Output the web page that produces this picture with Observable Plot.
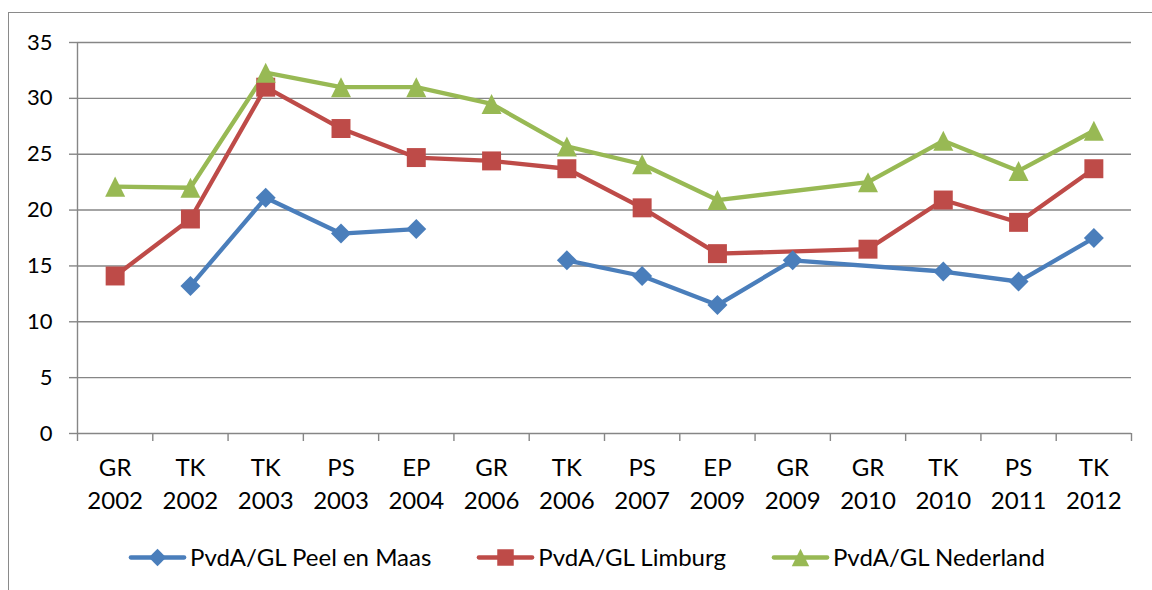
<!DOCTYPE html>
<html>
<head>
<meta charset="utf-8">
<script src="https://cdn.jsdelivr.net/npm/d3@7"></script>
<script src="https://cdn.jsdelivr.net/npm/@observablehq/plot@0.6"></script>
<style>
  html, body { margin: 0; padding: 0; background: #fff; }
  #wrap { position: relative; width: 1152px; height: 590px; overflow: hidden; font-family: Lato, "Open Sans", sans-serif; }
  #frame { position: absolute; left: 7.5px; top: 12px; width: 3000px; height: 3000px;
           border-left: 1.5px solid #8a8a8a; border-top: 1.5px solid #8a8a8a; box-sizing: border-box; }
  #chart { position: absolute; left: 0; top: 0; }
  #legend { position: absolute; left: 128px; top: 542px; display: flex; align-items: center; gap: 45px;
            font-size: 24px; color: #000; white-space: nowrap; }
  .item { display: flex; align-items: center; gap: 4px; }
  .item svg { display: block; }
</style>
</head>
<body>
<div id="wrap">
  <div id="frame"></div>
  <div id="chart"></div>
  <div id="legend"></div>
</div>
<script>
// ---- data ----
const categories = ["GR\n2002", "TK\n2002", "TK\n2003", "PS\n2003", "EP\n2004", "GR\n2006", "TK\n2006",
                    "PS\n2007", "EP\n2009", "GR\n2009", "GR\n2010", "TK\n2010", "PS\n2011", "TK\n2012"];
const seriesNames = ["PvdA/GL Peel en Maas", "PvdA/GL Limburg", "PvdA/GL Nederland"];
// null = no value (line breaks); undefined = no value, line continues across it
const peelEnMaas = [null, 13.2, 21.1, 17.9, 18.3, null, 15.5, 14.1, 11.5, 15.5, undefined, 14.5, 13.6, 17.5];
const limburg    = [14.1, 19.2, 31.0, 27.3, 24.7, 24.4, 23.7, 20.2, 16.1, undefined, 16.5, 20.9, 18.9, 23.7];
const nederland  = [22.1, 22.0, 32.3, 31.0, 31.0, 29.5, 25.7, 24.1, 20.9, undefined, 22.5, 26.2, 23.5, 27.1];
const yTicks = [0, 5, 10, 15, 20, 25, 30, 35];

// ---- styles ----
const colors = ["#4A7EBB", "#BE4B48", "#98B954"];
const grid = "#868686";
const triangle = { draw(ctx, size) { const h = Math.sqrt(size) / 2; ctx.moveTo(0, -h); ctx.lineTo(h, h); ctx.lineTo(-h, h); ctx.closePath(); } };
const symbols = ["diamond2", "square", triangle];
const radii = [9.0, 10.7, 11.3];

const valuesList = [peelEnMaas, limburg, nederland];
const rows = valuesList.flatMap((vals, s) => vals.map((v, i) => ({ series: seriesNames[s], s, i, value: v })));

const marks = [
  Plot.gridY(yTicks, { stroke: grid, strokeOpacity: 1, strokeWidth: 1.4 }),
  Plot.ruleX([-0.5], { y1: 0, y2: 35, stroke: grid, strokeWidth: 1.4 }),
  Plot.axisY({ ticks: yTicks, tickSize: 8, tickPadding: 17, fontSize: 22, stroke: grid, strokeWidth: 1.4, fill: "#000", label: null }),
  Plot.axisX({ ticks: d3.range(-0.5, 14, 1), tickSize: 8, tickFormat: () => "", stroke: grid, strokeWidth: 1.4, label: null }),
  Plot.axisX({ ticks: d3.range(categories.length), tickSize: 0, tickPadding: 19, tickFormat: (i) => categories[i],
               fontSize: 24, lineHeight: 1.38, fill: "#000", label: null })
];
seriesNames.forEach((name, s) => {
  const data = rows.filter((d) => d.s === s);
  marks.push(Plot.line(data.filter((d) => d.value !== undefined), { x: "i", y: "value", stroke: colors[s], strokeWidth: 4.3 }));
});
seriesNames.forEach((name, s) => {
  const data = rows.filter((d) => d.s === s && d.value != null);
  marks.push(Plot.dot(data, { x: "i", y: "value", fill: colors[s], stroke: "none", symbol: symbols[s], r: radii[s] }));
});

const chart = Plot.plot({
  width: 1152,
  height: 520,
  marginLeft: 77,
  marginRight: 21,
  marginTop: 42,
  marginBottom: 87,
  style: { fontFamily: "Lato, 'Open Sans', sans-serif", background: "transparent", overflow: "visible" },
  x: { type: "linear", domain: [-0.5, categories.length - 0.5], axis: null },
  y: { domain: [0, 35], axis: null },
  marks
});
document.getElementById("chart").appendChild(chart);

// ---- legend ----
const legend = document.getElementById("legend");
seriesNames.forEach((name, s) => {
  const item = document.createElement("div");
  item.className = "item";
  const sw = Plot.plot({
    width: 58, height: 24, margin: 0,
    x: { domain: [0, 1], axis: null }, y: { domain: [0, 1], axis: null },
    style: { background: "transparent", overflow: "visible" },
    marks: [
      Plot.line([[0.04, 0.5], [0.96, 0.5]], { stroke: colors[s], strokeWidth: 4.3, strokeLinecap: "round" }),
      Plot.dot([[0.5, 0.5]], { fill: colors[s], symbol: symbols[s], r: radii[s] * 0.87 })
    ]
  });
  item.appendChild(sw);
  const t = document.createElement("span");
  t.textContent = name;
  item.appendChild(t);
  legend.appendChild(item);
});
</script>
</body>
</html>
